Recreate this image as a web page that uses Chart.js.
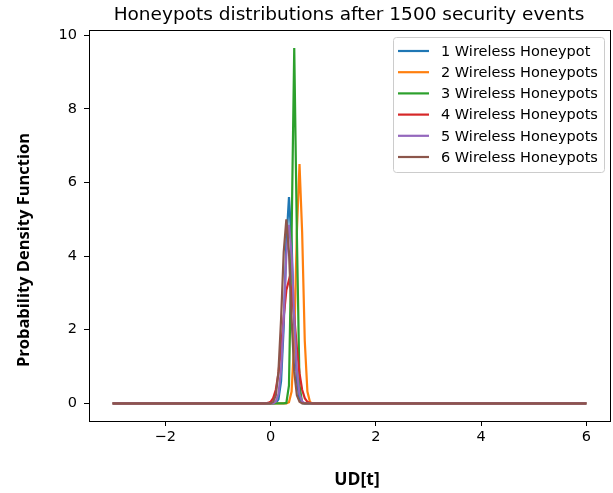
<!DOCTYPE html>
<html>
<head>
<meta charset="utf-8">
<script src="https://cdn.jsdelivr.net/npm/chart.js@4.4.1/dist/chart.umd.min.js"></script>
<style>
  html, body { margin: 0; padding: 0; background: #ffffff; }
  #wrap { width: 613px; height: 493px; }
</style>
</head>
<body>
<div id="wrap"><canvas id="pdfChart" width="613" height="493"></canvas></div>
<script>
// ---- data ----
const seriesNames = ['1 Wireless Honeypot', '2 Wireless Honeypots', '3 Wireless Honeypots',
                     '4 Wireless Honeypots', '5 Wireless Honeypots', '6 Wireless Honeypots'];
const seriesColors = ['#1f77b4', '#ff7f0e', '#2ca02c', '#d62728', '#9467bd', '#8c564b'];

const x1 = [-3, 0.05, 0.10, 0.15, 0.20, 0.25, 0.30, 0.35, 0.40, 0.45, 0.50, 0.55, 0.60, 0.65, 6];
const y1 = [0, 0, 0.01, 0.11, 0.60, 2.08, 4.37, 5.60, 4.37, 2.08, 0.60, 0.11, 0.01, 0, 0];

const x2 = [-3, 0.30, 0.35, 0.40, 0.45, 0.50, 0.55, 0.60, 0.65, 0.70, 0.75, 0.80, 6];
const y2 = [0, 0, 0.03, 0.32, 1.70, 4.65, 6.50, 4.65, 1.70, 0.32, 0.03, 0, 0];

const x3 = [-3, 0.25, 0.30, 0.35, 0.40, 0.45, 0.50, 0.55, 0.60, 0.65, 6];
const y3 = [0, 0, 0.01, 0.49, 4.59, 9.65, 4.59, 0.49, 0.01, 0, 0];

const x4 = [-3, -0.10, -0.05, 0.00, 0.05, 0.10, 0.15, 0.20, 0.25, 0.30, 0.35, 0.40, 0.45, 0.50, 0.55, 0.60, 0.65, 0.70, 0.75, 0.80, 6];
const y4 = [0, 0, 0.01, 0.04, 0.14, 0.37, 0.82, 1.51, 2.35, 3.07, 3.35, 3.07, 2.35, 1.51, 0.82, 0.37, 0.14, 0.04, 0.01, 0, 0];

const x5 = [-3, 0.05, 0.10, 0.15, 0.20, 0.25, 0.30, 0.35, 0.40, 0.45, 0.50, 0.55, 0.60, 0.65, 6];
const y5 = [0, 0, 0.05, 0.25, 0.91, 2.31, 4.03, 4.85, 4.03, 2.31, 0.91, 0.25, 0.05, 0, 0];

const x6 = [-3, 0.00, 0.05, 0.10, 0.15, 0.20, 0.25, 0.30, 0.35, 0.40, 0.45, 0.50, 0.55, 0.60, 6];
const y6 = [0, 0, 0.04, 0.22, 0.86, 2.29, 4.11, 5.00, 4.11, 2.29, 0.86, 0.22, 0.04, 0, 0];

const xTicks = [-2, 0, 2, 4, 6];
const yTicks = [0, 2, 4, 6, 8, 10];

const chartTitle = 'Honeypots distributions after 1500 security events';
const xTitle = 'UD[t]';
const yTitle = 'Probability Density Function';

// ---- build datasets ----
const xs = [x1, x2, x3, x4, x5, x6];
const ys = [y1, y2, y3, y4, y5, y6];
const datasets = seriesNames.map((name, i) => ({
  label: name,
  data: xs[i].map((x, k) => ({ x: x, y: ys[i][k] })),
  borderColor: seriesColors[i],
  backgroundColor: seriesColors[i],
  borderWidth: 2.2,
  pointRadius: 0,
  tension: 0,
  fill: false,
  order: seriesNames.length - 1 - i   // later series drawn on top, like matplotlib
}));

const fmt = v => (v < 0 ? '\u2212' + Math.abs(v) : String(v));

// frame, titles and in-plot legend
const decorPlugin = {
  id: 'decor',
  afterDatasetsDraw(chart) {
    const ctx = chart.ctx;
    const a = chart.chartArea;
    ctx.save();
    ctx.strokeStyle = '#000000';
    ctx.lineWidth = 1;
    ctx.strokeRect(Math.round(a.left) + 0.5, Math.round(a.top) + 0.5,
                   Math.round(a.right - a.left), Math.round(a.bottom - a.top));

    // legend box
    const lx = 393, ly = 37, lw = 211, lh = 135;
    ctx.beginPath();
    ctx.roundRect(lx + 0.5, ly + 0.5, lw, lh, 3);
    ctx.fillStyle = 'rgba(255,255,255,0.8)';
    ctx.fill();
    ctx.strokeStyle = '#cccccc';
    ctx.stroke();
    ctx.font = '14.5px "DejaVu Sans"';
    ctx.textBaseline = 'middle';
    ctx.textAlign = 'left';
    seriesNames.forEach((name, i) => {
      const yy = 51 + i * 21.2;
      ctx.strokeStyle = seriesColors[i];
      ctx.lineWidth = 2.2;
      ctx.beginPath();
      ctx.moveTo(398, yy);
      ctx.lineTo(429, yy);
      ctx.stroke();
      ctx.fillStyle = '#000000';
      ctx.fillText(name, 441, yy + 1);
    });

    // chart title
    ctx.fillStyle = '#000000';
    ctx.textAlign = 'center';
    ctx.font = '18.5px "DejaVu Sans"';
    ctx.fillText(chartTitle, 349, 15);

    // axis titles
    ctx.font = 'bold 17.5px "Open Sans"';
    ctx.fillText(xTitle, 357, 480);
    ctx.font = 'bold 16.5px "Open Sans"';
    ctx.translate(24, 250);
    ctx.rotate(-Math.PI / 2);
    ctx.fillText(yTitle, 0, 0);
    ctx.restore();
  }
};

new Chart(document.getElementById('pdfChart').getContext('2d'), {
  type: 'line',
  data: { datasets: datasets },
  options: {
    responsive: false,
    animation: false,
    layout: { padding: { top: 30, right: 3, left: 0, bottom: 0 } },
    plugins: { legend: { display: false }, title: { display: false }, tooltip: { enabled: false } },
    scales: {
      x: {
        type: 'linear',
        min: -3.45,
        max: 6.45,
        afterBuildTicks: s => { s.ticks = xTicks.map(v => ({ value: v })); },
        afterFit: s => { s.height = 72; },
        ticks: { color: '#000000', font: { family: 'DejaVu Sans', size: 14.5 }, padding: 3,
                 maxRotation: 0, autoSkip: false, callback: v => fmt(v) },
        grid: { drawOnChartArea: false, drawTicks: true, tickLength: 5, tickColor: '#000000' },
        border: { display: true, color: '#000000', width: 1 }
      },
      y: {
        type: 'linear',
        min: -0.48,
        max: 10.14,
        afterBuildTicks: s => { s.ticks = yTicks.map(v => ({ value: v })); },
        afterFit: s => { s.width = 89; },
        ticks: { color: '#000000', font: { family: 'DejaVu Sans', size: 14.5 }, padding: 7,
                 autoSkip: false, callback: v => fmt(v) },
        grid: { drawOnChartArea: false, drawTicks: true, tickLength: 5, tickColor: '#000000' },
        border: { display: true, color: '#000000', width: 1 }
      }
    }
  },
  plugins: [decorPlugin]
});
</script>
</body>
</html>
